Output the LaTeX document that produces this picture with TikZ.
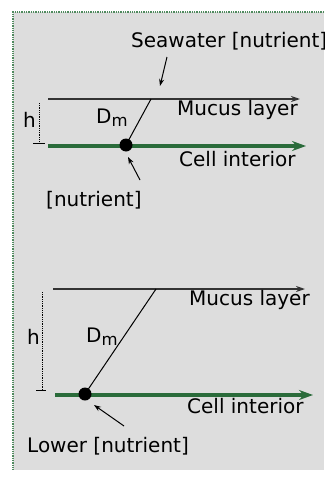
\documentclass[tikz,border=0pt]{standalone}
\usepackage{fontspec}
\setmainfont{DejaVu Sans}
\usetikzlibrary{arrows.meta}
\definecolor{panelgray}{HTML}{DDDDDD}
\definecolor{cellgreen}{HTML}{2A6B3A}
\definecolor{framegreen}{HTML}{4F8A5E}
\newcommand*{\Dm}{D\raisebox{-0.35ex}{\fontsize{16.5}{16.5}\selectfont m}}

\begin{document}
\begin{tikzpicture}[
		x=1pt,
		y=-1pt,
		font=\fontsize{20}{23}\selectfont
	]
		\tikzstyle{mucus}=[
			draw=black!80,
			line width=1.4pt,
			-{Stealth[length=9pt,width=6pt]}
		]
		\tikzstyle{interior}=[
			draw=cellgreen,
			line width=3.2pt,
			-{Stealth[length=14pt,width=10pt]}
		]
		\tikzstyle{dot}=[
			circle,
			fill=black,
			minimum size=13pt,
			inner sep=0pt
		]
		\tikzstyle{pointer}=[draw, line width=1pt, -{Stealth[length=7pt,width=5pt]}]
		\tikzstyle{height}=[draw, densely dotted, line width=0.8pt]
		\tikzstyle{lbl}=[inner sep=0pt, anchor=base west]

		\useasboundingbox (0,0) rectangle (324,479);
		\fill[panelgray] (13,12) rectangle (324,470);
		\draw[framegreen, densely dotted, line width=1.3pt] (324,12) -- (13,12) -- (13,470);

		% upper panel
		\draw[mucus] (48,99) coordinate (mucusA) -- (300,99);
		\draw[interior] (48,146) coordinate (cellA) -- (306,146);
		\node[dot] (nutrA) at (126,145) {};
		\coordinate (topA) at (151,99);
		\draw[line width=1pt] (nutrA.center) -- (topA);
		\node[lbl] (seawater) at (131,47) {Seawater [nutrient]};
		\node[lbl] (mucuslblA) at (177,115) {Mucus layer};
		\node[lbl] (celllblA) at (179,166) {Cell interior};
		\node[lbl] (dmA) at (96,123) {\Dm};
		\node[lbl] (hA) at (23,127) {h};
		\node[lbl] (nutrlblA) at (46,206) {[nutrient]};
		\coordinate (swfrom) at (167,57);
		\coordinate (swto) at (160,86);
		\draw[pointer] (swfrom) -- (swto);
		\coordinate (nfromA) at (140,180);
		\coordinate (ntoA) at (128,157);
		\draw[pointer] (nfromA) -- (ntoA);
		\draw[height] (39,103) coordinate (htopA) -- (39,143) coordinate (hbotA);
		\draw[line width=0.8pt] (33,143) -- (45,143);

		% lower panel
		\draw[mucus] (53,289) coordinate (mucusB) -- (305,289);
		\draw[interior] (55,395) coordinate (cellB) -- (313,395);
		\node[dot] (nutrB) at (85,394) {};
		\coordinate (topB) at (156,289);
		\draw[line width=1pt] (nutrB.center) -- (topB);
		\node[lbl] (mucuslblB) at (189,305) {Mucus layer};
		\node[lbl] (celllblB) at (187,413) {Cell interior};
		\node[lbl] (dmB) at (86,342) {\Dm};
		\node[lbl] (hB) at (27,344) {h};
		\node[lbl] (nutrlblB) at (27,452) {Lower [nutrient]};
		\coordinate (nfromB) at (124,426);
		\coordinate (ntoB) at (94,405);
		\draw[pointer] (nfromB) -- (ntoB);
		\draw[height] (42,292) coordinate (htopB) -- (42,390) coordinate (hbotB);
		\draw[line width=0.8pt] (36,390) -- (46,390);
	\end{tikzpicture}
\end{document}
